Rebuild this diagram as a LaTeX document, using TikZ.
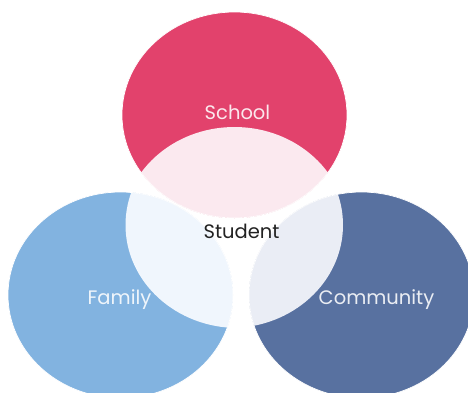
\documentclass[tikz,border=0pt]{standalone}
\usepackage{fontspec}
\setmainfont{Poppins}
\definecolor{schoolc}{HTML}{E2426C}
\definecolor{schoolp}{HTML}{FBE9EF}
\definecolor{familyc}{HTML}{82B3E0}
\definecolor{familyp}{HTML}{F0F6FD}
\definecolor{commc}{HTML}{5871A0}
\definecolor{commp}{HTML}{EAEDF5}
\definecolor{stud}{HTML}{222222}
\tikzset{
  lbl/.style={text=white,font=\fontsize{19.5}{23}\selectfont,inner sep=0pt,opacity=.88},
  pale/.style={font=\fontsize{19.5}{23}\selectfont,inner sep=0pt,text=stud},
  rim/.style={draw=white,line width=.7pt}
}
\begin{document}
\begin{tikzpicture}[x=1pt,y=-1pt]
\useasboundingbox (0,0) rectangle (468,392);
\clip (0,0) rectangle (468,392);
\fill[white] (0,0) rectangle (468,392);
% School
\fill[schoolc] (234.5,115) ellipse [x radius=112.5,y radius=103];
\begin{scope}
\clip (234.5,115) ellipse [x radius=112.5,y radius=103];
\fill[schoolp] (234.5,230) ellipse [x radius=112.5,y radius=103];
\end{scope}
\path[rim] (234.5,115) ellipse [x radius=112.5,y radius=103];
% Family
\fill[familyc] (120.5,295) ellipse [x radius=112.5,y radius=103];
\begin{scope}
\clip (120.5,295) ellipse [x radius=112.5,y radius=103];
\fill[familyp] (238,225) ellipse [x radius=112.5,y radius=103];
\end{scope}
\path[rim] (120.5,295) ellipse [x radius=112.5,y radius=103];
% Community
\fill[commc] (361.5,295) ellipse [x radius=112.5,y radius=103];
\begin{scope}
\clip (361.5,295) ellipse [x radius=112.5,y radius=103];
\fill[commp] (230.5,225) ellipse [x radius=112.5,y radius=103];
\end{scope}
\path[rim] (361.5,295) ellipse [x radius=112.5,y radius=103];
\node[lbl] (school) at (237.5,112) {School};
\node[lbl] (family) at (119.5,300) {Family};
\node[lbl] (community) at (376.5,300) {Community};
\node[pale] (student) at (241.5,231.5) {Student};
\end{tikzpicture}
\end{document}
